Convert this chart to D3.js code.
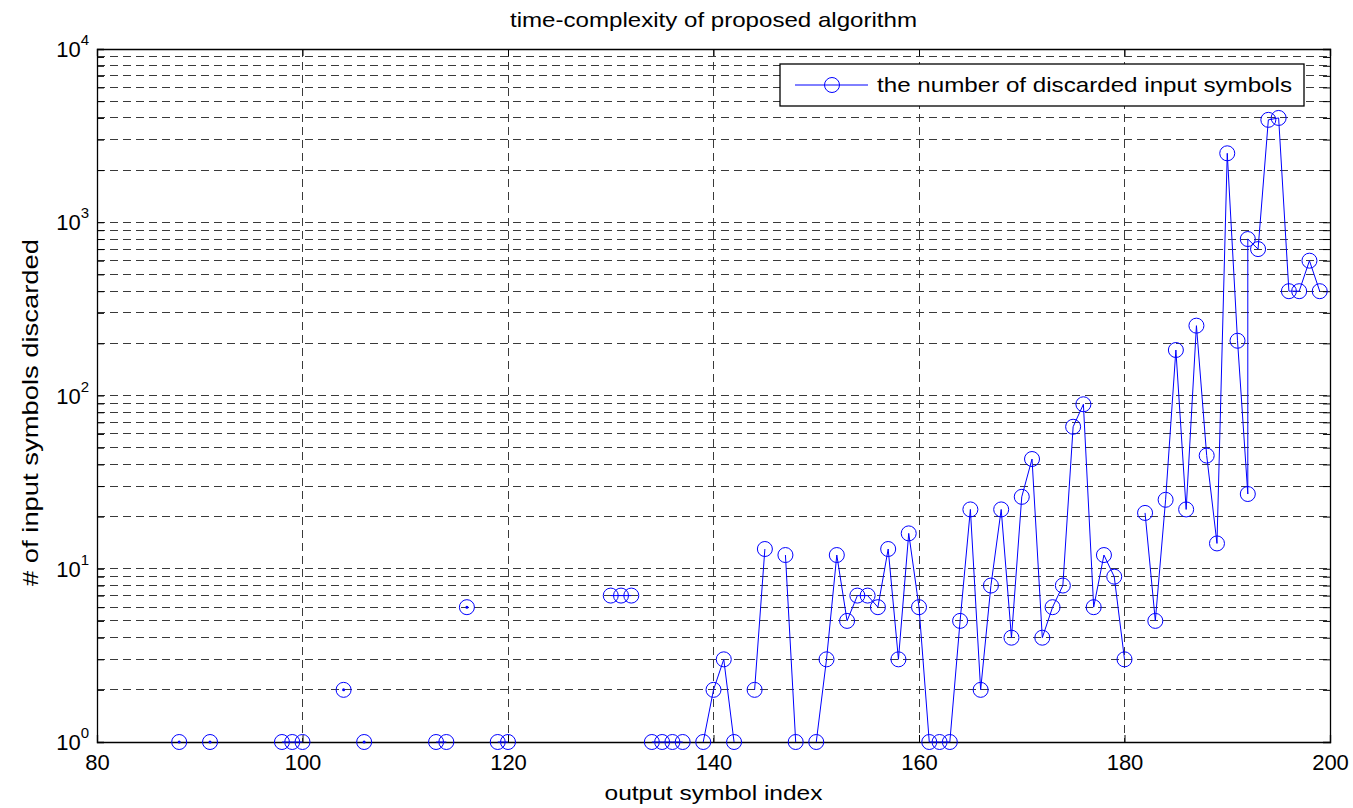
<!DOCTYPE html>
<html>
<head>
<meta charset="utf-8">
<script src="https://cdn.jsdelivr.net/npm/d3@7"></script>
<style>
  body { margin: 0; background: #fff; }
  text { font-family: "Liberation Sans", Arial, sans-serif; fill: #000; }
</style>
</head>
<body>
<svg id="chart" width="1353" height="808"></svg>
<script>
// output symbol index (x) and number of discarded input symbols (y)
const outputIndex = [88, 91, 98, 99, 100, 104, 106, 113, 114, 116, 119, 120,
  130, 131, 132, 134, 135, 136, 137, 139, 140, 141, 142, 144, 145, 147, 148,
  150, 151, 152, 153, 154, 155, 156, 157, 158, 159, 160, 161, 162, 163, 164,
  165, 166, 167, 168, 169, 170, 171, 172, 173, 174, 175, 176, 177, 178, 179,
  180, 182, 183, 184, 185, 186, 187, 188, 189, 190, 191, 192, 192, 193, 194,
  195, 196, 197, 198, 199];
const discarded = [1, 1, 1, 1, 1, 2, 1, 1, 1, 6, 1, 1,
  7, 7, 7, 1, 1, 1, 1, 1, 2, 3, 1, 2, 13, 12, 1,
  1, 3, 12, 5, 7, 7, 6, 13, 3, 16, 6, 1, 1, 1, 5,
  22, 2, 8, 22, 4, 26, 43, 4, 6, 8, 66, 89, 6, 12, 9,
  3, 21, 5, 25, 183, 22, 253, 45, 14, 2500, 207, 27, 800, 700, 3900,
  4000, 400, 400, 600, 400];
const xTicks = [80, 100, 120, 140, 160, 180, 200];
const yDecades = [1, 10, 100, 1000, 10000];

const margin = {top: 49, right: 23, bottom: 66, left: 97};
const width = 1353 - margin.left - margin.right;
const height = 808 - margin.top - margin.bottom;

const svg = d3.select('#chart');
const g = svg.append('g')
  .attr('transform', 'translate(' + margin.left + ',' + margin.top + ')');

const x = d3.scaleLinear().domain([80, 200]).range([0, width]);
const y = d3.scaleLog().domain([1, 10000]).range([height, 0]);

// minor log ticks (2..9 in each decade)
const minor = [];
yDecades.slice(0, -1).forEach(d => {
  for (let k = 2; k <= 9; k++) minor.push(d * k);
});
const allY = yDecades.concat(minor);

// grid
g.append('g').selectAll('line')
  .data(allY.filter(v => v > 1 && v < 10000))
  .enter().append('line')
  .attr('x1', 0).attr('x2', width)
  .attr('y1', d => y(d)).attr('y2', d => y(d))
  .attr('stroke', '#3a3a3a').attr('stroke-width', 1)
  .attr('stroke-dasharray', '8,5')
  .attr('shape-rendering', 'crispEdges');

g.append('g').selectAll('line')
  .data(xTicks.slice(1, -1))
  .enter().append('line')
  .attr('x1', d => x(d)).attr('x2', d => x(d))
  .attr('y1', 0).attr('y2', height)
  .attr('stroke', '#3a3a3a').attr('stroke-width', 1)
  .attr('stroke-dasharray', '8,5')
  .attr('shape-rendering', 'crispEdges');

// axes
const xAxis = d3.axisBottom(x).tickValues(xTicks).tickSize(-7).tickPadding(12).tickFormat(d3.format('d'));
const xAxisTop = d3.axisTop(x).tickValues(xTicks).tickSize(-7).tickFormat('');
const yAxis = d3.axisLeft(y).tickValues(allY).tickSize(-7).tickFormat('');
const yAxisRight = d3.axisRight(y).tickValues(allY).tickSize(-7).tickFormat('');

[
  g.append('g').attr('transform', 'translate(0,' + height + ')').call(xAxis),
  g.append('g').call(xAxisTop),
  g.append('g').call(yAxis),
  g.append('g').attr('transform', 'translate(' + width + ',0)').call(yAxisRight)
].forEach(a => {
  a.select('.domain').attr('stroke', '#000').attr('stroke-width', 1.3);
  a.selectAll('.tick line').attr('stroke', '#000');
  a.selectAll('.tick text').style('font-size', '22px').attr('fill', '#000');
});

// y tick labels 10^n
const yl = g.append('g');
yDecades.forEach((d, i) => {
  const t = yl.append('text')
    .attr('x', -8).attr('y', y(d) + 8)
    .attr('text-anchor', 'end')
    .style('font-size', '22px');
  t.append('tspan').text('10');
  t.append('tspan').attr('dy', -12).style('font-size', '15px').text(i);
});

// series, split where indices are not consecutive
const points = outputIndex.map((v, i) => ({x: v, y: discarded[i]}));
const segments = [];
points.forEach((p, i) => {
  if (i === 0 || p.x - points[i - 1].x > 1) segments.push([]);
  segments[segments.length - 1].push(p);
});

const line = d3.line().x(d => x(d.x)).y(d => y(d.y));
const series = g.append('g');
series.selectAll('path')
  .data(segments.filter(s => s.length > 1))
  .enter().append('path')
  .attr('d', line)
  .attr('fill', 'none')
  .attr('stroke', '#0000ff')
  .attr('stroke-width', 1);

series.selectAll('circle.dot')
  .data(segments.filter(s => s.length === 1).map(s => s[0]))
  .enter().append('circle')
  .attr('class', 'dot')
  .attr('cx', d => x(d.x)).attr('cy', d => y(d.y))
  .attr('r', 1.5).attr('fill', '#0000ff');

series.selectAll('circle.mk')
  .data(points)
  .enter().append('circle')
  .attr('class', 'mk')
  .attr('cx', d => x(d.x)).attr('cy', d => y(d.y))
  .attr('r', 7.5)
  .attr('fill', 'none')
  .attr('stroke', '#0000ff')
  .attr('stroke-width', 1);

// labels
svg.append('text')
  .attr('x', margin.left + width / 2).attr('y', 27)
  .attr('text-anchor', 'middle')
  .attr('textLength', 407).attr('lengthAdjust', 'spacingAndGlyphs')
  .style('font-size', '21px')
  .text('time-complexity of proposed algorithm');

svg.append('text')
  .attr('x', margin.left + width / 2).attr('y', 800)
  .attr('text-anchor', 'middle')
  .attr('textLength', 218).attr('lengthAdjust', 'spacingAndGlyphs')
  .style('font-size', '21px')
  .text('output symbol index');

svg.append('text')
  .attr('transform', 'translate(38,' + (margin.top + height / 2 + 17) + ') rotate(-90)')
  .attr('text-anchor', 'middle')
  .attr('textLength', 347).attr('lengthAdjust', 'spacingAndGlyphs')
  .style('font-size', '22px')
  .text('# of input symbols discarded');

// legend
const lg = g.append('g').attr('transform', 'translate(' + (780 - margin.left) + ',' + (64 - margin.top) + ')');
lg.append('rect')
  .attr('width', 524).attr('height', 42)
  .attr('fill', '#fff').attr('stroke', '#000').attr('stroke-width', 1.3);
lg.append('line')
  .attr('x1', 15).attr('x2', 88).attr('y1', 21).attr('y2', 21)
  .attr('stroke', '#0000ff').attr('stroke-width', 1);
lg.append('circle')
  .attr('cx', 52).attr('cy', 21).attr('r', 7.5)
  .attr('fill', 'none').attr('stroke', '#0000ff');
lg.append('text')
  .attr('x', 97).attr('y', 28)
  .attr('textLength', 415).attr('lengthAdjust', 'spacingAndGlyphs')
  .style('font-size', '21px')
  .text('the number of discarded input symbols');
</script>
</body>
</html>
